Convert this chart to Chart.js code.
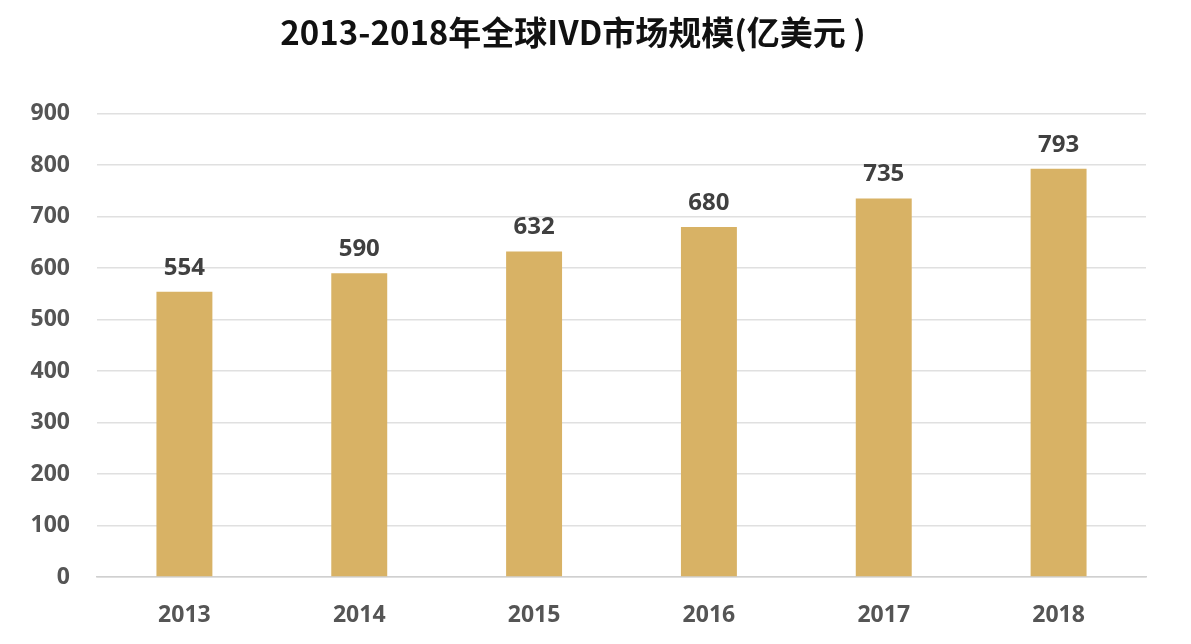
<!DOCTYPE html>
<html>
<head>
<meta charset="utf-8">
<script src="https://cdn.jsdelivr.net/npm/chart.js@4"></script>
<style>
  html, body { margin: 0; padding: 0; background: #fff; }
  #wrap { width: 1191px; height: 644px; }
</style>
</head>
<body>
<div id="wrap"><canvas id="ivd-chart" width="1191" height="644"></canvas></div>
<script>
// chart data
var years = ['2013', '2014', '2015', '2016', '2017', '2018'];
var market = [554, 590, 632, 680, 735, 793];
var yTicks = [0, 100, 200, 300, 400, 500, 600, 700, 800, 900];

var titleText = '2013-2018年全球IVD市场规模(亿美元 )';
var labelFont = '"Open Sans", "Noto Sans", sans-serif';

// value labels on top of bars
var barLabels = {
  id: 'barLabels',
  afterDatasetsDraw: function(chart) {
    var ctx = chart.ctx;
    var meta = chart.getDatasetMeta(0);
    ctx.save();
    ctx.font = 'bold 24px ' + labelFont;
    ctx.fillStyle = '#404040';
    ctx.textAlign = 'center';
    ctx.textBaseline = 'middle';
    meta.data.forEach(function(bar, i) {
      ctx.fillText(market[i], bar.x, bar.y - 24);
    });
    ctx.restore();
  }
};

Chart.defaults.font.family = labelFont;

new Chart(document.getElementById('ivd-chart'), {
  type: 'bar',
  data: {
    labels: years,
    datasets: [{
      label: '市场规模',
      data: market,
      backgroundColor: '#d8b265',
      borderWidth: 0,
      categoryPercentage: 1,
      barPercentage: 0.32
    }]
  },
  options: {
    responsive: false,
    animation: false,
    layout: { padding: { left: 0, right: 45, top: 0, bottom: 0 } },
    plugins: {
      legend: { display: false },
      tooltip: { enabled: false },
      title: {
        display: true,
        text: titleText,
        color: '#111',
        font: { family: '"Noto Sans CJK SC", sans-serif', size: 33, weight: 'bold' },
        padding: { top: 13, bottom: 61 }
      }
    },
    scales: {
      x: {
        grid: { display: false, drawTicks: false },
        border: { color: '#d0d0d0', width: 1.5 },
        ticks: {
          color: '#555',
          font: { size: 23, weight: 'bold' },
          padding: 25
        },
        afterFit: function(scale) { scale.height = 67; }
      },
      y: {
        min: 0,
        max: 900,
        afterBuildTicks: function(scale) {
          scale.ticks = yTicks.map(function(v) { return { value: v }; });
        },
        grid: { color: '#e0e0e0', lineWidth: 1.5, drawTicks: false },
        border: { display: false },
        ticks: {
          color: '#555',
          font: { size: 23, weight: 'bold' },
          padding: 27
        },
        afterFit: function(scale) { scale.width = 97; }
      }
    }
  },
  plugins: [barLabels]
});
</script>
</body>
</html>
